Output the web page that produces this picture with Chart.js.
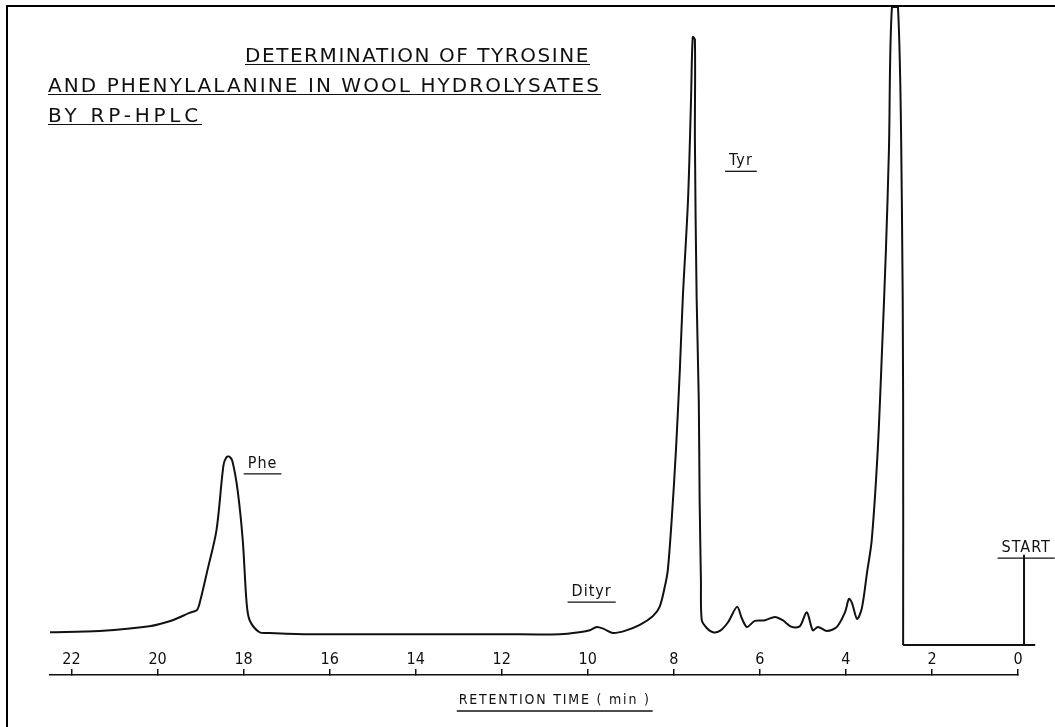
<!DOCTYPE html>
<html>
<head>
<meta charset="utf-8">
<script src="https://cdn.jsdelivr.net/npm/chart.js@4"></script>
<style>
  html, body { margin: 0; padding: 0; background: #fff; }
  #wrap { position: relative; width: 1055px; height: 727px; overflow: hidden; }
  #frame { position: absolute; left: 6px; top: 5px; right: -4px; bottom: -4px;
           border-left: 2px solid #000; border-top: 2px solid #000; }
  .ttl { position: absolute; font: 20px 'DejaVu Sans', sans-serif; line-height: 18px;
         color: #111; white-space: nowrap; border-bottom: 1.5px solid #111; }
  canvas { position: absolute; left: 0; top: 0; }
</style>
</head>
<body>
<div id="wrap">
  <div id="frame"></div>
  <canvas id="myChart" width="1055" height="727"></canvas>
  <div class="ttl" id="t1" style="left:245px; top:46px;">DETERMINATION OF TYROSINE</div>
  <div class="ttl" id="t2" style="left:48px; top:76px;">AND PHENYLALANINE IN WOOL HYDROLYSATES</div>
  <div class="ttl" id="t3" style="left:48px; top:106px;">BY RP-HPLC</div>
</div>
<script>
// Chromatogram (x = retention time, min; y = detector response, arbitrary units)

const retentionMin = [22.5, 21.35, 20.19, 19.65, 19.26, 19.09, 19.02, 18.84, 18.63, 18.47, 18.40, 18.33, 18.26,
    18.14, 18.02, 17.93, 17.86, 17.63, 17.40, 16.47, 14.37, 12.05, 10.65, 10.19, 9.95, 9.79, 9.63,
    9.42, 9.14, 8.79, 8.49, 8.33, 8.21, 8.14, 8.05, 7.95, 7.86, 7.79, 7.67, 7.60, 7.56, 7.51, 7.51,
    7.47, 7.42, 7.40, 7.37, 7.35, 7.23, 7.09, 6.93, 6.74, 6.53, 6.42, 6.30, 6.12, 5.88, 5.65, 5.47,
    5.26, 5.07, 4.91, 4.77, 4.65, 4.44, 4.21, 4.02, 3.93, 3.86, 3.74, 3.63, 3.51, 3.40, 3.26, 3.16,
    3.07, 3.00, 2.93, 2.79, 2.70, 2.67, 2.67];
const response = [6.4, 6.6, 7.3, 8.2, 9.3, 9.7, 10.8, 15.7, 21.7, 31.3, 32.6, 32.7, 32.0,
    27.7, 20.2, 10.8, 8.2, 6.4, 6.3, 6.1, 6.1, 6.1, 6.1, 6.4, 6.7, 7.2, 6.9,
    6.3, 6.6, 7.5, 8.8, 10.2, 13.2, 15.7, 23.2, 33.7, 45.7, 56.6, 71.1, 86.1, 95.5, 95.1, 80.1,
    56.6, 41.2, 26.2, 14.2, 8.2, 7.0, 6.4, 6.6, 7.9, 10.2, 8.5, 7.2, 8.1, 8.2, 8.7, 8.2,
    7.2, 7.3, 9.4, 6.7, 7.2, 6.6, 7.2, 9.4, 11.4, 10.8, 8.4, 10.0, 15.3, 20.2, 33.7, 48.7,
    63.6, 78.6, 100, 100, 71.1, 41.2, 4.5];

// pen baseline after the solvent front, with the START (injection) mark
const startLineMin = [2.67, -0.14, -0.14, -0.14, -0.40];
const startLineResp = [4.5, 4.5, 18.0, 4.5, 4.5];

const xTicks = [0, 2, 4, 6, 8, 10, 12, 14, 16, 18, 20, 22];

// peak labels (anchored in data units)
const peakNames = ['Phe', 'Dityr', 'Tyr', 'START'];
const peakLabelMin = [17.56, 9.91, 6.44, -0.19];
const peakLabelResp = [31.6, 12.4, 76.9, 19.0];

const narrow = "'DejaVu Sans Condensed', 'Liberation Sans Narrow', 'DejaVu Sans', sans-serif";

const peakLabels = {
    id: 'peakLabels',
    afterDatasetsDraw(chart) {
        const {ctx, scales: {x, y}} = chart;
        ctx.save();
        ctx.fillStyle = '#111';
        ctx.strokeStyle = '#111';
        ctx.lineWidth = 1.3;
        ctx.textAlign = 'center';
        ctx.textBaseline = 'middle';
        ctx.font = '16px ' + narrow;
        if ('letterSpacing' in ctx) ctx.letterSpacing = '1px';
        peakNames.forEach((name, i) => {
            const px = x.getPixelForValue(peakLabelMin[i]);
            const py = y.getPixelForValue(peakLabelResp[i]);
            const w = ctx.measureText(name).width;
            ctx.fillText(name, px, py);
            ctx.beginPath();
            ctx.moveTo(px - w / 2 - 4, py + 10);
            ctx.lineTo(px + w / 2 + 4, py + 10);
            ctx.stroke();
        });
        // axis title, underlined
        ctx.font = '14px ' + narrow;
        if ('letterSpacing' in ctx) ctx.letterSpacing = '1.8px';
        const title = 'RETENTION TIME ( min )';
        const cx = (x.getPixelForValue(22) + x.getPixelForValue(0)) / 2 + 10;
        const cy = x.bottom - 27;
        const tw = ctx.measureText(title).width;
        ctx.fillText(title, cx, cy);
        ctx.beginPath();
        ctx.moveTo(cx - tw / 2 - 2, cy + 11);
        ctx.lineTo(cx + tw / 2 + 2, cy + 11);
        ctx.stroke();
        ctx.restore();
    }
};

const trace = retentionMin.map((t, i) => ({x: t, y: response[i]}));
const startLine = startLineMin.map((t, i) => ({x: t, y: startLineResp[i]}));

const ctx = document.getElementById('myChart');
const myChart = new Chart(ctx, {
    type: 'line',
    data: {
        datasets: [
            {
                label: 'Wool hydrolysate',
                data: trace,
                borderColor: '#111',
                borderWidth: 2,
                pointRadius: 0,
                tension: 0.3,
                fill: false
            },
            {
                label: 'START',
                data: startLine,
                borderColor: '#111',
                borderWidth: 2,
                pointRadius: 0,
                tension: 0,
                clip: false,
                fill: false
            }
        ]
    },
    options: {
        responsive: false,
        animation: false,
        devicePixelRatio: 1,
        layout: {
            padding: {left: 50, right: 37, top: 7, bottom: 0}
        },
        scales: {
            x: {
                type: 'linear',
                reverse: true,
                min: 0,
                max: 22.5,
                afterFit: scale => {
                    scale.height = 52;
                    scale.paddingLeft = 0;
                    scale.paddingRight = 0;
                },
                afterBuildTicks: scale => { scale.ticks = xTicks.map(v => ({value: v})); },
                border: {display: true, color: '#111', width: 1.5},
                grid: {
                    drawOnChartArea: false,
                    drawTicks: true,
                    tickLength: -6,
                    color: '#111',
                    lineWidth: 1.5
                },
                ticks: {
                    mirror: true,
                    padding: 6,
                    autoSkip: false,
                    maxRotation: 0,
                    color: '#111',
                    font: {family: narrow, size: 16},
                    callback: v => String(v)
                }
            },
            y: {
                display: false,
                min: 0,
                max: 100
            }
        },
        plugins: {
            legend: {display: false},
            tooltip: {enabled: false}
        }
    },
    plugins: [peakLabels]
});

// spread the title letters to the width of the hand lettering
function fitLine(id, target) {
    const el = document.getElementById(id);
    const w = el.getBoundingClientRect().width;
    const n = el.textContent.length;
    el.style.letterSpacing = ((target - w) / n) + 'px';
}
fitLine('t1', 345);
fitLine('t2', 553);
fitLine('t3', 154);
</script>
</body>
</html>
